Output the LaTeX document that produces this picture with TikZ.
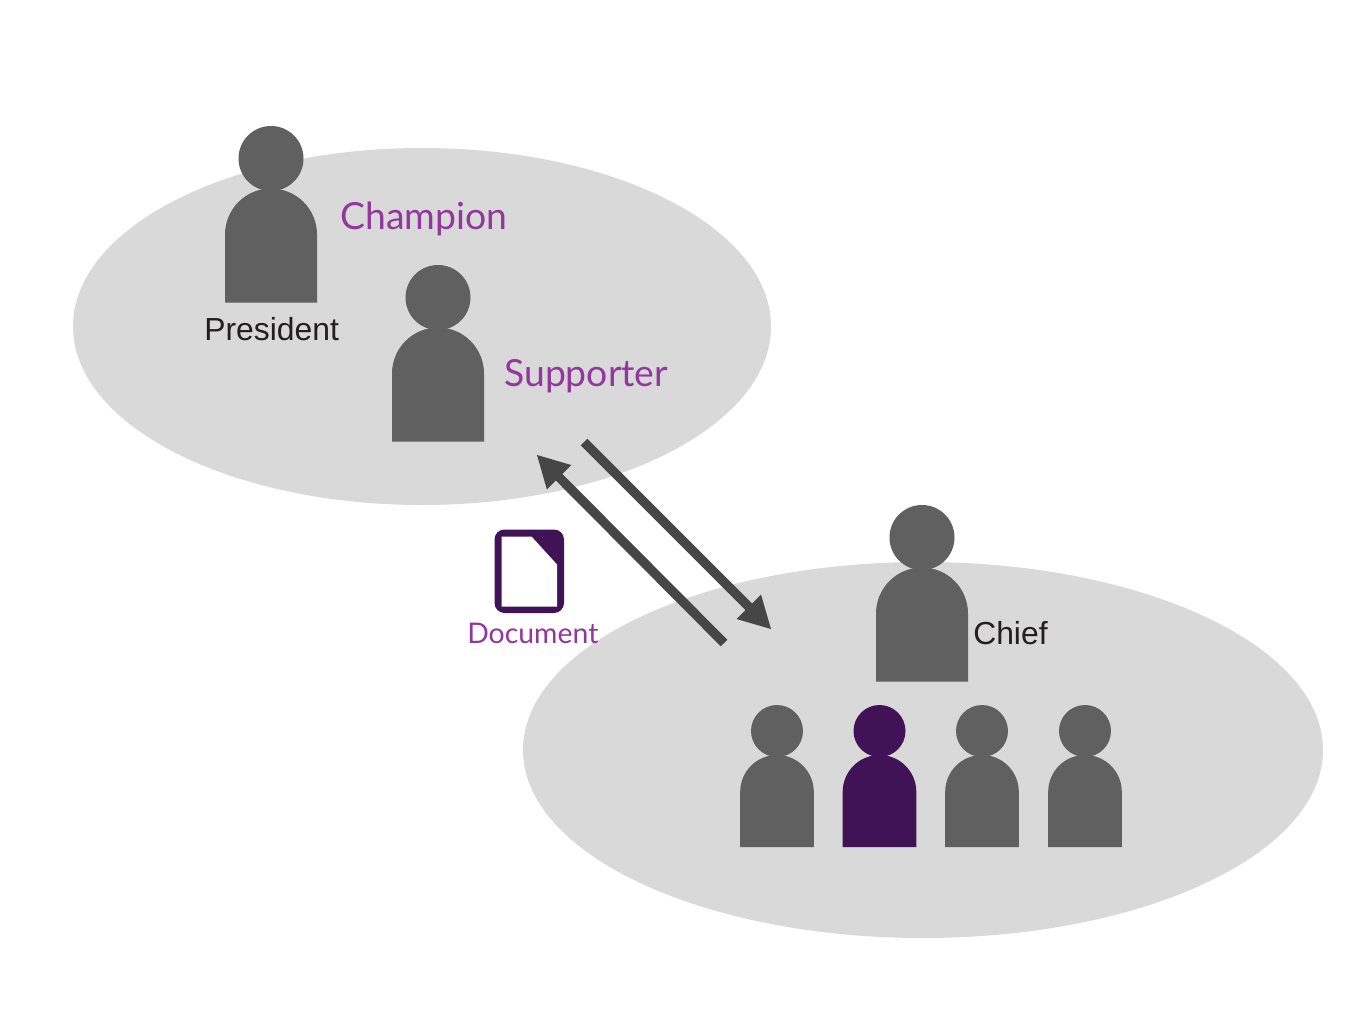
\documentclass[tikz,border=0pt]{standalone}
\usepackage{fontspec}
\setmainfont{Liberation Sans}
\newfontfamily\gillish{Lato}
\usetikzlibrary{arrows.meta}
\definecolor{cloud}{HTML}{D9D9D9}
\definecolor{figgray}{HTML}{606060}
\definecolor{deep}{HTML}{3F1356}
\definecolor{violet}{HTML}{93369F}
\definecolor{arrowgray}{HTML}{464646}
\definecolor{ink}{HTML}{231F20}
\newcommand{\bigperson}[3]{% head x, head y, colour
  \fill[#3] (#1,#2) circle (32.5);
  \fill[#3] (#1-46,#2+144) -- (#1-46,#2+76) arc[start angle=180,end angle=360,x radius=46,y radius=46] -- (#1+46,#2+144) -- cycle;
}
\newcommand{\smallperson}[3]{%
  \fill[#3] (#1,#2) circle (26);
  \fill[#3] (#1-36.8,#2+116) -- (#1-36.8,#2+60.8) arc[start angle=180,end angle=360,x radius=36.8,y radius=36.8] -- (#1+36.8,#2+116) -- cycle;
}
\tikzset{
  cloudshape/.style={fill=cloud},
  flow/.style={draw=arrowgray,line width=7pt,-{Triangle[length=24pt,width=24pt]},shorten >=-0.5pt},
  roleA/.style={font=\gillish\fontsize{28}{30}\selectfont,text=violet,inner sep=0pt,anchor=base west},
  roleB/.style={font=\fontsize{23.9}{26}\selectfont,text=ink,inner sep=0pt,anchor=base west},
  doclabel/.style={font=\gillish\fontsize{21.3}{24}\selectfont,text=violet,inner sep=0pt,anchor=base west},
}
\begin{document}
\begin{tikzpicture}[x=0.75pt,y=-0.75pt]
\useasboundingbox (0,0) rectangle (1365,1024);
\fill[white] (0,0) rectangle (1365,1024);
\fill[cloudshape] (422,326.5) ellipse [x radius=349,y radius=178.5];
\fill[cloudshape] (923,750) ellipse [x radius=400,y radius=188];
\bigperson{271}{158.5}{figgray}
\bigperson{438}{297.5}{figgray}
\bigperson{922}{537.5}{figgray}
\smallperson{777}{731}{figgray}
\smallperson{879.5}{731}{deep}
\smallperson{982}{731}{figgray}
\smallperson{1085}{731}{figgray}
% document icon
\fill[deep,rounded corners=7.5] (494.5,529.5) rectangle (564,613);
\fill[white] (501.5,536.5) -- (531.5,536.5) -- (557,564.5) -- (557,606.5) -- (501.5,606.5) -- cycle;
\node[roleA] (champion) at (340,229) {Champion};
\node[roleA] (supporter) at (504,386) {Supporter};
\node[roleB] (president) at (204,340) {President};
\node[roleB] (chief) at (973,644) {Chief};
\node[doclabel] (document) at (467,643) {Document};
\coordinate (a1) at (584,442);
\coordinate (a2) at (771,629);
\coordinate (b1) at (724,643);
\coordinate (b2) at (537,455);
\draw[flow] (a1) -- (a2);
\draw[flow] (b1) -- (b2);
\end{tikzpicture}
\end{document}
